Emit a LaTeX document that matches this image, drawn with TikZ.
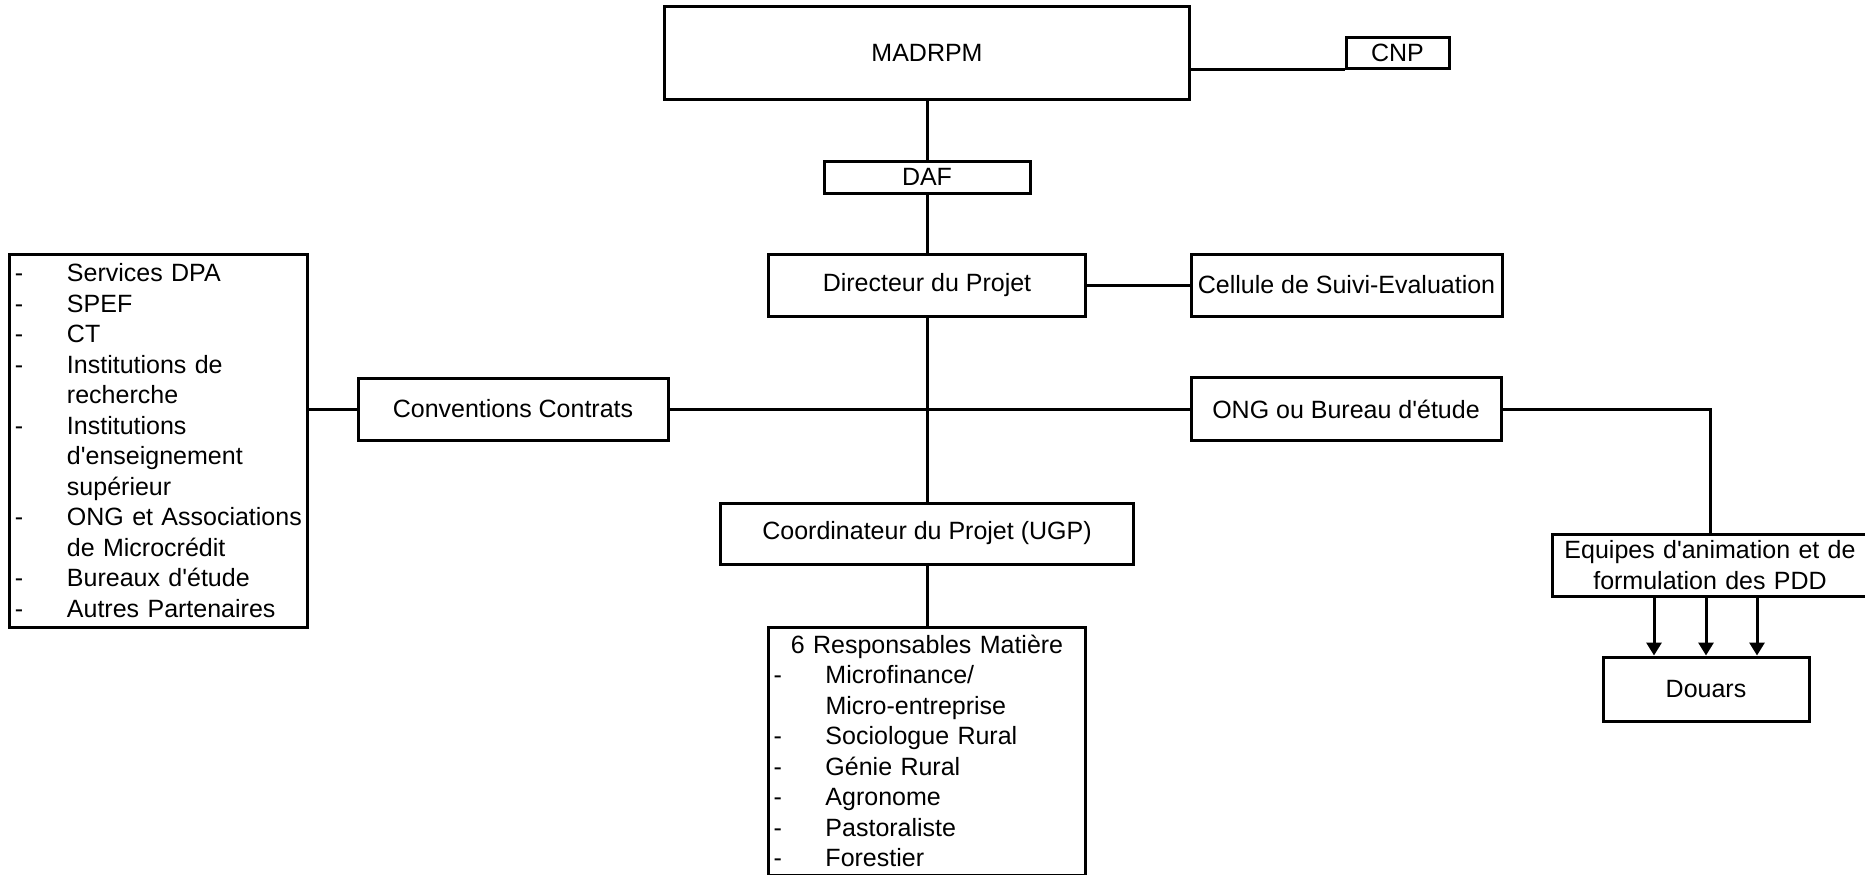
\documentclass[tikz,border=0pt]{standalone}
\usepackage{fontspec}
\setmainfont{Liberation Sans}
\usetikzlibrary{arrows.meta}

\newcommand{\lsitem}{\makebox[20.8pt][l]{-}}
\newcommand{\lscont}{\hspace*{20.8pt}}
\newcommand{\apos}{\textquotesingle}

\begin{document}
\begin{tikzpicture}
[
x=0.4pt, y=-0.4pt,
line width=1.2pt,
>={Triangle[length=5.2pt,width=6pt]},
every node/.style={draw, inner xsep=2pt, inner ysep=0pt, font=\fontsize{10}{12.2}\selectfont}
]
\useasboundingbox (0,0) rectangle (1865,874);

\node[minimum width=210pt, minimum height=37.2pt] (madrpm) at (927,52.5) {MADRPM};
\node[minimum width=41.2pt, minimum height=12.4pt] (cnp) at (1397.5,52.5) {CNP};
\node[minimum width=82.4pt, minimum height=12.8pt] (daf) at (927,177) {DAF};
\node[minimum width=126.8pt, minimum height=24.8pt] (dir) at (927,285) {Directeur du Projet};
\node[minimum width=124.4pt, minimum height=24.8pt] (cellule) at (1346.5,285) {Cellule de Suivi-Evaluation};
\node[minimum width=124pt, minimum height=24.8pt] (conv) at (513,409) {Conventions Contrats};
\node[minimum width=124pt, minimum height=25.2pt] (ong) at (1346,409) {ONG ou Bureau d\apos{}étude};
\node[minimum width=165.2pt, minimum height=24.4pt] (coord) at (927,533.5) {Coordinateur du Projet (UGP)};

\node[align=left, text width=114.8pt, minimum height=149.2pt] (partners) at (158.5,440.5) {
\lsitem Services DPA\\
\lsitem SPEF\\
\lsitem CT\\
\lsitem Institutions de\\
\lscont recherche\\
\lsitem Institutions\\
\lscont d\apos{}enseignement\\
\lscont supérieur\\
\lsitem ONG et Associations\\
\lscont de Microcrédit\\
\lsitem Bureaux d\apos{}étude\\
\lsitem Autres Partenaires};

\node[align=left, text width=122.8pt, minimum height=99.2pt] (resp) at (927,751) {
\makebox[122.8pt]{6 Responsables Matière}\\
\lsitem Microfinance/\\
\lscont Micro-entreprise\\
\lsitem Sociologue Rural\\
\lsitem Génie Rural\\
\lsitem Agronome\\
\lsitem Pastoraliste\\
\lsitem Forestier};

\node[align=center, text width=122.4pt, minimum height=24.8pt] (equipes) at (1710,565)
{Equipes d\apos{}animation et de\\formulation des PDD};
\node[minimum width=82.4pt, minimum height=25.6pt] (douars) at (1706,689) {Douars};

% liaisons
\draw (cnp.south west -| madrpm.east) -- (cnp.south west);
\draw (madrpm) -- (daf);
\draw (daf) -- (dir);
\draw (dir) -- (coord);
\draw (coord) -- (resp);
\draw (dir) -- (cellule);
\draw (conv.west -| partners.east) -- (conv.west);
\draw (conv) -- (ong);
\draw (ong.east) -| (equipes.north);

% fleches vers les douars
\coordinate (d1) at ([xshift=-20.8pt]douars.north);
\coordinate (d2) at (douars.north);
\coordinate (d3) at ([xshift=20.4pt]douars.north);
\draw[->] (d1 |- equipes.south) -- (d1);
\draw[->] (d2 |- equipes.south) -- (d2);
\draw[->] (d3 |- equipes.south) -- (d3);
\end{tikzpicture}
\end{document}
